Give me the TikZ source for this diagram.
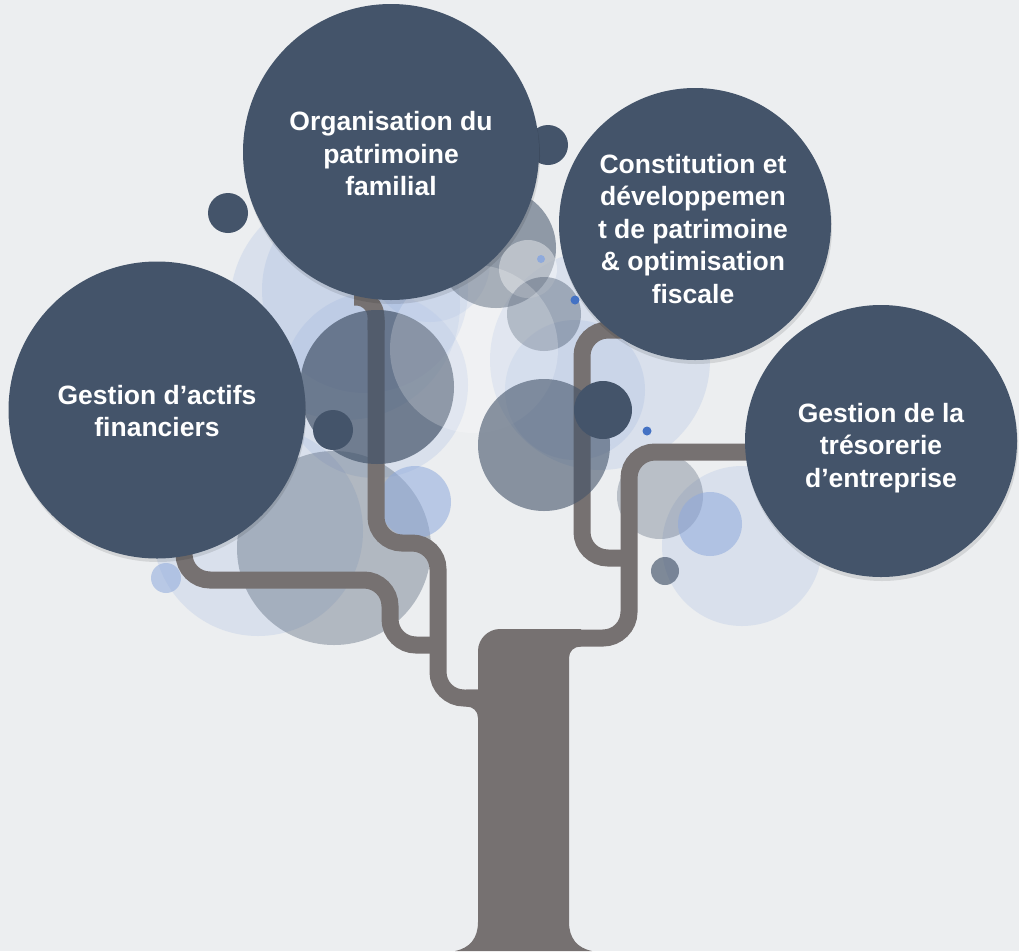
\documentclass[tikz,border=0pt]{standalone}
\usepackage{fontspec}
\setmainfont{Liberation Sans}
\definecolor{bg}{HTML}{ECEEF0}
\definecolor{navy}{HTML}{44546A}
\definecolor{bark}{HTML}{767171}
\definecolor{lblue}{HTML}{8FAADC}
\definecolor{dblue}{HTML}{4472C4}
\begin{document}
\begin{tikzpicture}[x=1pt,y=-1pt,
  pale/.style={fill=lblue,fill opacity=0.2},
  greyc/.style={fill=navy,fill opacity=#1},
  bluec/.style={fill=lblue,fill opacity=0.55},
  whitec/.style={fill=white,fill opacity=#1},
  branch/.style={draw=bark,line width=17pt,rounded corners=26pt},
  bigc/.style={circle,fill=navy,inner sep=0pt,minimum size=#1},
  shadowc/.style={fill=black,fill opacity=0.1},
  lbl/.style={text=white,align=center,font=\fontsize{26.5pt}{32.5pt}\selectfont\bfseries,inner sep=0pt}]
\fill[bg] (0,0) rectangle (1019,951);
\useasboundingbox (0,0) rectangle (1019,951);
% pale background circles
\fill[pale] (258,531) circle (105pt);
\fill[pale] (742,546) circle (80pt);
\fill[pale] (345,305) circle (115pt);
\fill[pale] (365,290) circle (103pt);
\fill[pale] (375,385) circle (93pt);
\fill[pale] (430,262) circle (60pt);
\fill[pale] (600,360) circle (110pt);
\fill[pale] (575,390) circle (70pt);
% grey circles under the branches
\fill[greyc=0.35] (334,548) circle (97pt);
\fill[greyc=0.55] (496,248) circle (60pt);
\fill[whitec=0.4] (528,269) circle (29pt);
\fill[greyc=0.4] (544,314) circle (37pt);
\fill[greyc=0.3] (660,496) circle (43pt);
\fill[bluec] (415,502) circle (36pt);
\fill[bluec] (710,524) circle (32pt);
\fill[bluec] (166,578) circle (15pt);
\fill[greyc=0.65] (665,571) circle (14pt);
% trunk
\fill[bark] (455,951) .. controls (470,948) and (478,938) .. (478,922)
  -- (478,718) .. controls (478,711) and (473,706.5) .. (466,706.5)
  -- (466,689.5) -- (478,689.5) -- (478,651)
  .. controls (478,639) and (488,629) .. (500,629) -- (581,629) -- (581,646.5)
  .. controls (574,646.5) and (569,651) .. (569,658)
  -- (569,922) .. controls (569,938) and (577,948) .. (592,951) -- cycle;
% branches
\draw[branch] (184,540) -- (184,580) -- (390,580) -- (390,645) -- (438,645);
\draw[branch,rounded corners=20pt] (354,297) -- (376,297) -- (376,330);
\draw[branch] (376,320) -- (376,543) -- (438,543) -- (438,698) -- (479,698);
\draw[branch] (650,330) -- (582,330) -- (582,558) -- (629,558);
\draw[branch] (770,452) -- (629,452) -- (629,638) -- (570,638);
% circles over the branches
\fill[greyc=0.7] (377,387) circle (77pt);
\fill[whitec=0.22] (474,349) circle (84pt);
\fill[greyc=0.6] (544,445) circle (66pt);
\fill[navy] (228,213) circle (20pt);
\fill[navy] (548,145) circle (20pt);
\fill[navy] (333,430) circle (20pt);
\fill[navy] (603,410) circle (29pt);
\fill[lblue] (541,259) circle (4pt);
\fill[dblue] (575,300) circle (4.5pt);
\fill[dblue] (647,431) circle (4.5pt);
% big circles
\fill[shadowc] (392,156) circle (148pt);
\node[bigc=296pt] (c1) at (391,152) {};
\fill[shadowc] (696,228) circle (136pt);
\node[bigc=272pt] (c2) at (695,224) {};
\fill[shadowc] (158,414) circle (148pt);
\node[bigc=297pt] (c3) at (157,410) {};
\fill[shadowc] (882,445) circle (136pt);
\node[bigc=272pt] (c4) at (881,441) {};
\node[lbl] (t1) at (391,154) {Organisation du\\patrimoine\\familial};
\node[lbl] (t2) at (693,229) {Constitution et\\développemen\\t de patrimoine\\\& optimisation\\fiscale};
\node[lbl] (t3) at (157,411) {Gestion d’actifs\\financiers};
\node[lbl] (t4) at (881,448) {Gestion de la\\trésorerie\\d’entreprise};
\end{tikzpicture}
\end{document}
